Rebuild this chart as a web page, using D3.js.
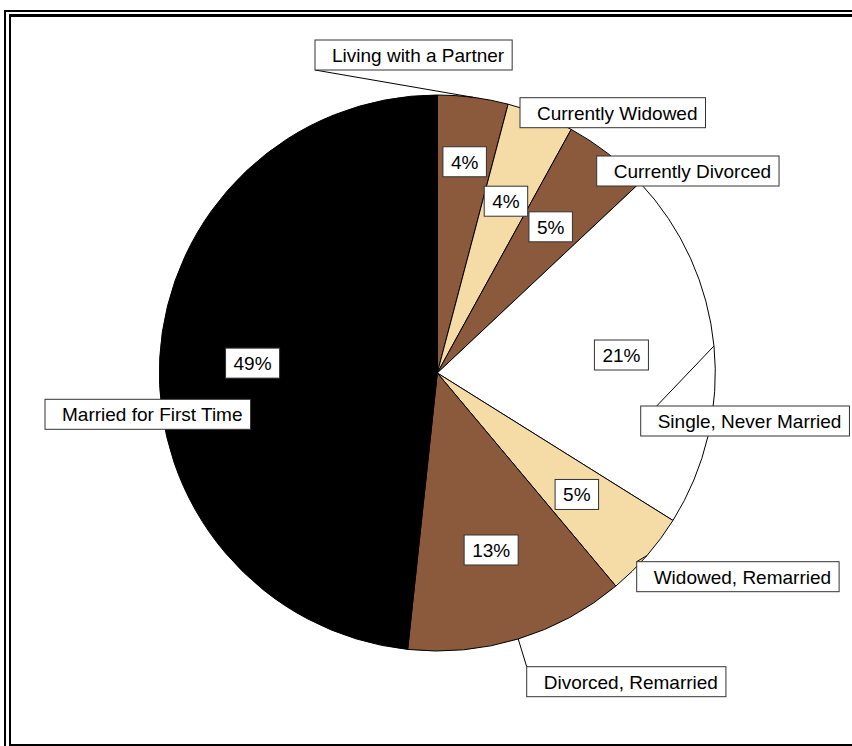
<!DOCTYPE html>
<html><head><meta charset="utf-8">
<script src="https://cdn.jsdelivr.net/npm/d3@7"></script>
<style>html,body{margin:0;padding:0;background:#fff;}svg{display:block;}</style>
</head><body>
<svg id="c" width="852" height="746"></svg>
<script>
// Data
const categories = ["Living with a Partner","Currently Widowed","Currently Divorced","Single, Never Married","Widowed, Remarried","Divorced, Remarried","Married for First Time"];
const values = [4.1, 3.9, 5.0, 20.9, 5.0, 12.8, 48.3];
const valueLabels = ["4%","4%","5%","21%","5%","13%","49%"];
const colors = ["#8B5A3C","#F5DBA6","#8B5A3C","#FFFFFF","#F5DBA6","#8B5A3C","#000000"];

// Layout
const cx = 437.3, cy = 373, R = 278;
const pctRadius = [213, 185, 185, 185, 185, 185, 185];
const nameBox = [[315,40],[520,97.7],[596.7,156],[640.7,406],[636.7,561.7],[526.7,666.7],[45,399.3]];
// leader attach: null = none; [dx,dy] relative to box top-left (h = box height)
const leaderAttach = [[0,"h"],null,null,[16,0],[0,0],[0,0],null];

const svg = d3.select("#c");
// frame
const fr = svg.append("g").attr("stroke","#000").attr("fill","none");
fr.append("line").attr("x1",4).attr("x2",852).attr("y1",11).attr("y2",11).attr("stroke-width",2);
fr.append("line").attr("x1",5).attr("x2",5).attr("y1",10).attr("y2",746).attr("stroke-width",2);
fr.append("line").attr("x1",9).attr("x2",852).attr("y1",15.5).attr("y2",15.5).attr("stroke-width",3);
fr.append("line").attr("x1",10).attr("x2",10).attr("y1",14).attr("y2",746).attr("stroke-width",2);
fr.append("line").attr("x1",9).attr("x2",852).attr("y1",745).attr("y2",745).attr("stroke-width",2);

const pie = d3.pie().sort(null).value(d=>d).startAngle(0).endAngle(2*Math.PI);
const arcs = pie(values);
const arc = d3.arc().innerRadius(0).outerRadius(R);
const g = svg.append("g").attr("transform",`translate(${cx},${cy})`);
g.selectAll("path.s").data(arcs).join("path").attr("class","s")
  .attr("d",arc).attr("fill",(d,i)=>colors[i]).attr("stroke","#000").attr("stroke-width",1);

const font = "Liberation Sans, Arial, sans-serif";
const fs = 19, bh = 30;

// measure helper
function tw(t){
  const tmp = svg.append("text").attr("font-family",font).attr("font-size",fs).text(t);
  const w = tmp.node().getComputedTextLength(); tmp.remove(); return w;
}

// leader lines
arcs.forEach((d,i)=>{
  const la = leaderAttach[i]; if(!la) return;
  const a = (d.startAngle+d.endAngle)/2;
  const x0 = cx + R*Math.sin(a), y0 = cy - R*Math.cos(a);
  const [bx,by] = nameBox[i];
  const x1 = bx + la[0], y1 = by + (la[1]==="h"?bh:la[1]);
  svg.append("line").attr("x1",x0).attr("y1",y0).attr("x2",x1).attr("y2",y1)
    .attr("stroke","#000").attr("stroke-width",1);
});

// percent labels
arcs.forEach((d,i)=>{
  const a = (d.startAngle+d.endAngle)/2;
  const x = cx + pctRadius[i]*Math.sin(a), y = cy - pctRadius[i]*Math.cos(a);
  const w = tw(valueLabels[i]) + 16;
  svg.append("rect").attr("x",x-w/2).attr("y",y-bh/2).attr("width",w).attr("height",bh)
    .attr("fill","#fff").attr("stroke","#333").attr("stroke-width",1);
  svg.append("text").attr("x",x).attr("y",y+7).attr("text-anchor","middle")
    .attr("font-family",font).attr("font-size",fs).attr("fill","#000").text(valueLabels[i]);
});

// name labels
categories.forEach((c,i)=>{
  const [bx,by] = nameBox[i];
  const w = tw(c) + 17 + 8;
  svg.append("rect").attr("x",bx).attr("y",by).attr("width",w).attr("height",bh)
    .attr("fill","#fff").attr("stroke","#333").attr("stroke-width",1);
  svg.append("text").attr("x",bx+17).attr("y",by+bh/2+7)
    .attr("font-family",font).attr("font-size",fs).attr("fill","#000").text(c);
});
</script>
</body></html>
